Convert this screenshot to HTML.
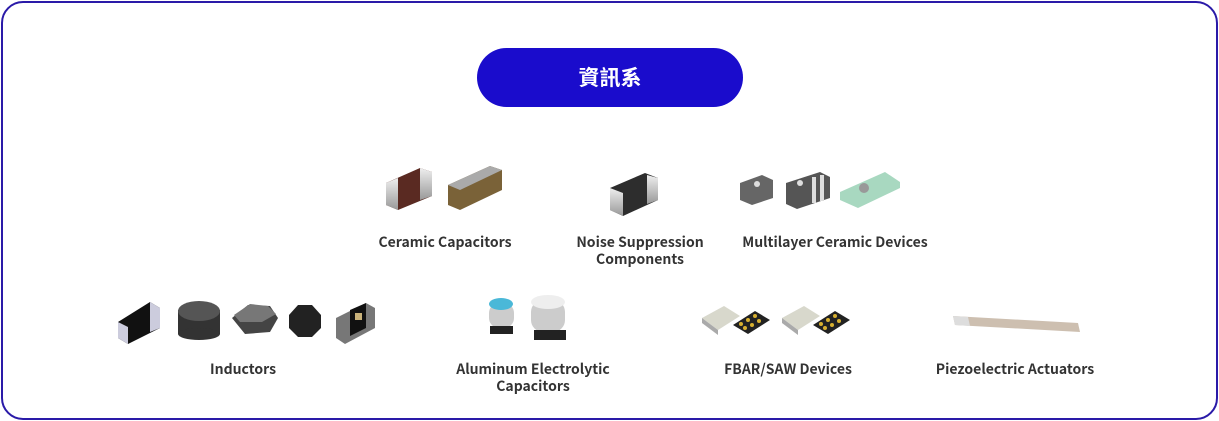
<!DOCTYPE html>
<html><head><meta charset="utf-8"><style>
body{margin:0;width:1219px;height:421px;background:#fff;position:relative;overflow:hidden;font-family:"Liberation Sans","Noto Sans CJK TC",sans-serif}
.frame{position:absolute;left:1px;top:1px;width:1213px;height:415px;border:2px solid #2a1aa8;border-radius:22px}
.pill{position:absolute;left:477px;top:48px;width:266px;height:59px;border-radius:30px;background:#1a0ccc;color:#fff;font-weight:bold;font-size:21px;text-align:center;line-height:59px;font-family:"Noto Sans CJK TC",sans-serif}
.l{position:absolute;font-size:14px;font-weight:bold;color:#333;text-align:center;line-height:17px;transform:translateX(-50%);white-space:nowrap;font-family:"Noto Sans CJK TC","Liberation Sans",sans-serif}
svg{position:absolute;left:0;top:0}
</style></head><body>
<div class="frame"></div>
<div class="pill">資訊系</div>
<svg width="1219" height="421">
<defs>
<linearGradient id="m" x1="0" x2="0" y1="0" y2="1"><stop offset="0" stop-color="#eee"/><stop offset="1" stop-color="#999"/></linearGradient>
</defs>
<polygon points="386,183 420,168 432,172 432,196 398,210 386,205" fill="#5a2a22"/>
<polygon points="386,183 398,178 398,210 386,205" fill="url(#m)"/>
<polygon points="420,168 432,172 432,196 420,200" fill="url(#m)"/>
<polygon points="448,185 490,166 502,170 502,190 460,210 448,205" fill="#7a6238"/>
<polygon points="448,185 490,166 502,170 460,190" fill="#aaa"/>
<polygon points="610,188 645,173 658,178 658,200 623,216 610,210" fill="#2d2d2d"/>
<polygon points="610,188 623,193 623,216 610,210" fill="url(#m)"/>
<polygon points="647,175 658,178 658,200 647,204" fill="url(#m)"/>
<polygon points="740,183 762,175 773,180 773,198 752,205 740,200" fill="#666"/><circle cx="757" cy="184" r="3" fill="#ddd"/>
<polygon points="786,183 820,172 830,177 830,198 797,209 786,204" fill="#555"/><rect x="812" y="177" width="4" height="26" fill="#ddd"/><rect x="820" y="175" width="4" height="26" fill="#ddd"/><circle cx="800" cy="183" r="3" fill="#ddd"/>
<polygon points="840,192 885,172 900,182 900,188 858,208 840,200" fill="#a8d8c0"/><circle cx="864" cy="188" r="5" fill="#999"/>
<polygon points="118,322 150,302 160,308 160,328 128,344 118,338" fill="#111"/>
<polygon points="118,322 128,327 128,344 118,338" fill="#ccd"/><polygon points="150,302 160,308 160,328 150,332" fill="#ccd"/>
<rect x="178" y="310" width="42" height="24" fill="#333"/><ellipse cx="199" cy="311" rx="21" ry="10" fill="#555"/><ellipse cx="199" cy="334" rx="21" ry="6" fill="#333"/>
<polygon points="232,318 248,305 270,306 278,318 270,332 245,334" fill="#444"/><polygon points="234,315 250,304 268,306 276,314 262,322 240,322" fill="#777"/>
<polygon points="289,315 298,305 312,305 321,315 321,328 312,337 298,337 289,328" fill="#222"/>
<polygon points="336,318 366,303 375,308 375,328 345,344 336,338" fill="#777"/><polygon points="350,310 366,303 366,328 350,336" fill="#111"/><rect x="355" y="313" width="7" height="7" fill="#c9b27a"/>
<rect x="489" y="303" width="25" height="25" rx="10" fill="#ccc"/><ellipse cx="501" cy="304" rx="12" ry="6" fill="#4ab8d8"/><rect x="490" y="326" width="23" height="8" fill="#222"/>
<rect x="531" y="300" width="34" height="32" rx="12" fill="#ccc"/><ellipse cx="548" cy="302" rx="17" ry="7" fill="#eee"/><rect x="534" y="330" width="32" height="10" fill="#222"/>
<polygon points="702,318 724,306 740,316 718,330" fill="#d8d8cc"/><polygon points="702,318 718,330 718,335 702,323" fill="#aaa"/>
<polygon points="733,325 755,311 770,320 748,334" fill="#222"/><g fill="#d8b030"><circle cx="748" cy="320" r="2"/><circle cx="755" cy="316" r="2"/><circle cx="752" cy="325" r="2"/><circle cx="759" cy="321" r="2"/><circle cx="745" cy="328" r="2"/><circle cx="741" cy="324" r="2"/></g>
<polygon points="782,318 804,306 820,316 798,330" fill="#d8d8cc"/><polygon points="782,318 798,330 798,335 782,323" fill="#aaa"/>
<polygon points="813,325 835,311 850,320 828,334" fill="#222"/><g fill="#d8b030"><circle cx="828" cy="320" r="2"/><circle cx="835" cy="316" r="2"/><circle cx="832" cy="325" r="2"/><circle cx="839" cy="321" r="2"/><circle cx="825" cy="328" r="2"/><circle cx="821" cy="324" r="2"/></g>
<polygon points="953,316 1078,323 1080,332 955,325" fill="#cdbfb0"/><polygon points="953,316 968,317 970,326 955,325" fill="#ddd"/>
</svg>
<div class="l" style="left:445px;top:234px">Ceramic Capacitors</div>
<div class="l" style="left:640px;top:234px">Noise Suppression<br>Components</div>
<div class="l" style="left:835px;top:234px">Multilayer Ceramic Devices</div>
<div class="l" style="left:243px;top:361px">Inductors</div>
<div class="l" style="left:533px;top:361px">Aluminum Electrolytic<br>Capacitors</div>
<div class="l" style="left:788px;top:361px">FBAR/SAW Devices</div>
<div class="l" style="left:1015px;top:361px">Piezoelectric Actuators</div>
</body></html>
